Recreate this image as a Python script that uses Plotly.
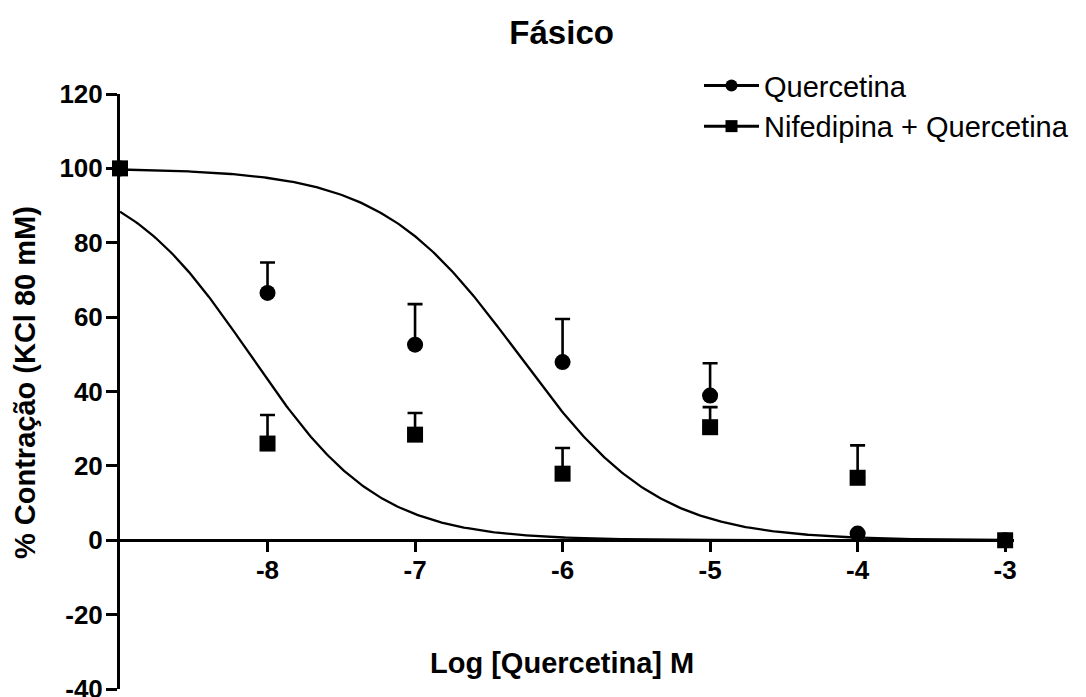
import numpy as np
import plotly.graph_objects as go

# Concentrations (log M) and responses (% of KCl 80 mM contraction)
log_conc = [-9, -8, -7, -6, -5, -4, -3]
quercetina_mean = [100, 66.5, 52.6, 47.9, 38.9, 1.8, 0]
quercetina_sem = [0, 8.2, 10.9, 11.6, 8.7, 0, 0]
nifed_quer_mean = [100, 26.0, 28.4, 17.9, 30.4, 16.8, 0]
nifed_quer_sem = [0, 7.7, 5.8, 6.9, 5.4, 8.7, 0]

# Fitted log(inhibitor) vs response parameters (top, bottom, logIC50, Hill slope)
fit_quercetina = dict(top=100, bottom=0, log_ic50=-6.3, hill=0.93)
fit_nifed_quer = dict(top=100, bottom=0, log_ic50=-8.12, hill=1.0)

series_names = ["Quercetina", "Nifedipina + Quercetina"]
x_ticks = [-8, -7, -6, -5, -4, -3]
y_ticks = [-40, -20, 0, 20, 40, 60, 80, 100, 120]

FONT = "Liberation Sans, Arial, sans-serif"
BLACK = "#000000"


def logistic(x, top, bottom, log_ic50, hill):
    return bottom + (top - bottom) / (1 + 10 ** ((x - log_ic50) * hill))


x_fit = np.linspace(-9, -3, 400)

fig = go.Figure()

# fitted curves
for p in (fit_quercetina, fit_nifed_quer):
    fig.add_trace(go.Scatter(
        x=x_fit, y=logistic(x_fit, **p), mode="lines",
        line=dict(color=BLACK, width=2.3), showlegend=False, hoverinfo="skip",
    ))

# mean ± SEM (upper bar only)
for mean, sem, symbol in ((quercetina_mean, quercetina_sem, "circle"),
                          (nifed_quer_mean, nifed_quer_sem, "square")):
    fig.add_trace(go.Scatter(
        x=log_conc, y=mean, mode="markers",
        marker=dict(symbol=symbol, size=16, color=BLACK),
        error_y=dict(type="data", array=sem, arrayminus=[0] * len(sem),
                     symmetric=False, color=BLACK, thickness=2.6, width=7.5),
        showlegend=False, cliponaxis=False,
    ))

# legend entries
for i, (name, symbol) in enumerate(zip(series_names, ("circle", "square"))):
    fig.add_trace(go.Scatter(
        x=[None], y=[None], mode="lines+markers", name=name,
        legendgroup=f"g{i}",
        line=dict(color=BLACK, width=3),
        marker=dict(symbol=symbol, size=12, color=BLACK),
    ))

fig.update_layout(
    width=1086, height=697,
    margin=dict(l=120, r=72, t=94, b=8, autoexpand=False),
    paper_bgcolor="white", plot_bgcolor="white",
    font=dict(family=FONT, color=BLACK),
    title=dict(text="Fásico", x=0.494, xref="paper", xanchor="center",
               y=1 - 32 / 697, yref="container", yanchor="middle",
               font=dict(family=FONT, size=33, weight="bold", color=BLACK)),
    legend=dict(x=(699 - 120) / 894, y=1.057, xanchor="left", yanchor="top",
                font=dict(family=FONT, size=29, color=BLACK),
                bgcolor="rgba(0,0,0,0)", tracegroupgap=0, itemwidth=55),
    showlegend=True,
)

fig.update_xaxes(
    range=[-9, -2.94], anchor="free", position=0.25, automargin=False,
    tickvals=x_ticks, ticktext=[str(v) for v in x_ticks],
    ticks="outside", ticklen=10, tickwidth=2.8, tickcolor=BLACK,
    showline=True, linewidth=3, linecolor=BLACK,
    showgrid=False, zeroline=False, ticklabeloverflow="allow",
    ticklabelstandoff=-4,
    tickfont=dict(family=FONT, size=26, weight="bold", color=BLACK),
)
fig.update_yaxes(
    range=[-40, 120], automargin=False,
    tickvals=y_ticks, ticktext=[str(v) for v in y_ticks],
    ticks="outside", ticklen=11, tickwidth=2.8, tickcolor=BLACK,
    showline=True, linewidth=3, linecolor=BLACK,
    showgrid=False, zeroline=False, ticklabeloverflow="allow",
    ticklabelstandoff=-2,
    tickfont=dict(family=FONT, size=26, weight="bold", color=BLACK),
)

# axis titles
fig.add_annotation(
    text="Log [Quercetina] M", x=0.494, xref="paper", y=-33, yref="y",
    xanchor="center", yanchor="middle", showarrow=False,
    font=dict(family=FONT, size=29, weight="bold", color=BLACK),
)
fig.add_annotation(
    text="% Contração (KCl 80 mM)", textangle=-90,
    x=(25 - 120) / 894, xref="paper", y=(689 - 383) / 595, yref="paper",
    xanchor="center", yanchor="middle", showarrow=False,
    font=dict(family=FONT, size=29, weight="bold", color=BLACK),
)

fig.write_html("out.html")
